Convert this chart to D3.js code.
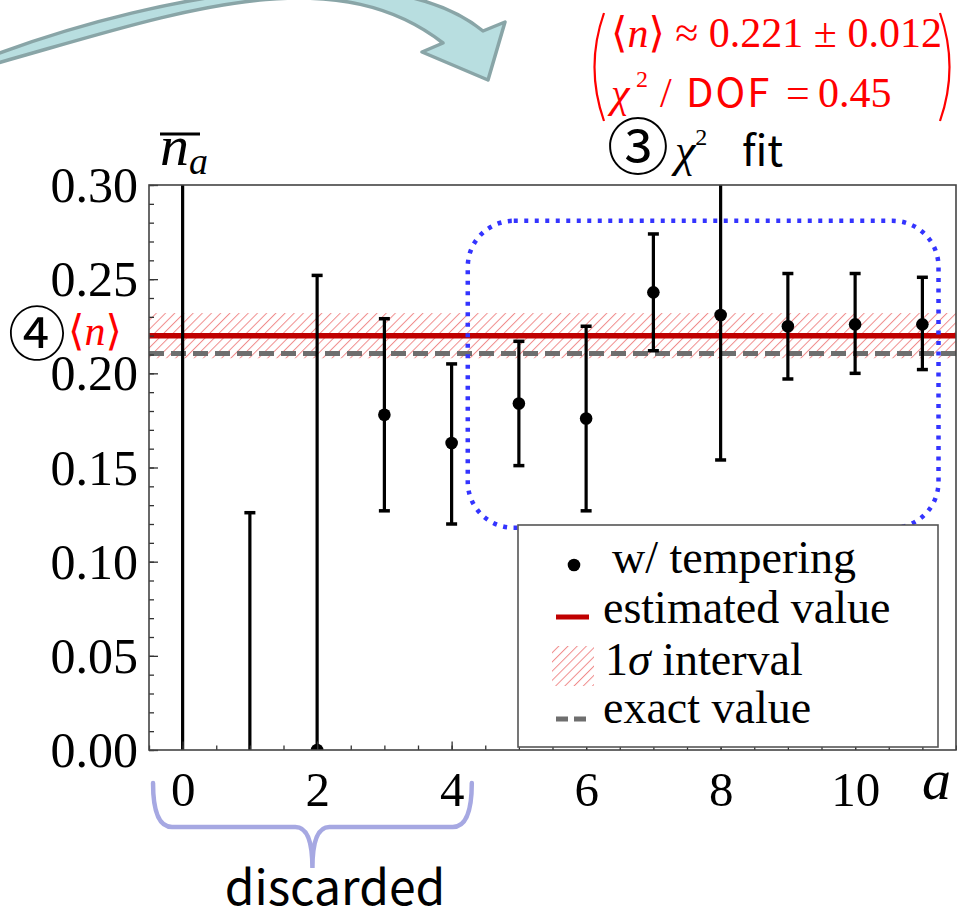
<!DOCTYPE html>
<html>
<head>
<meta charset="utf-8">
<script src="https://cdn.jsdelivr.net/npm/d3@7"></script>
<style>
  body { margin: 0; background: #fff; }
  svg { display: block; }
  .axis text { font-family: 'Liberation Serif', serif; fill: #000; }
  .axis line { stroke: #333; stroke-width: 1.3; }
  .axis path { display: none; }
  .serif { font-family: 'Liberation Serif', 'DejaVu Serif', serif; }
  .sans { font-family: 'Noto Sans CJK KR', 'Noto Sans', sans-serif; }
</style>
</head>
<body>
<div class="chart"></div>
<script>
var W = 957, H = 920;
var frame = {left: 149, right: 956, top: 185, bottom: 750};

// data
var aValues = [0, 1, 2, 3, 4, 5, 6, 7, 8, 9, 10, 11];
var means  = [0.45, -0.10, 0.000, 0.178, 0.163, 0.184, 0.176, 0.243, 0.231, 0.225, 0.226, 0.226];
var lowers = [-0.40, -0.35, -0.252, 0.127, 0.120, 0.151, 0.127, 0.212, 0.154, 0.197, 0.200, 0.202];
var uppers = [1.30, 0.126, 0.252, 0.229, 0.205, 0.217, 0.225, 0.274, 0.308, 0.253, 0.253, 0.251];

var estimated = 0.220;
var sigma = 0.012;
var exact = 0.2105;

var xMajor = [0, 2, 4, 6, 8, 10];
var xMinor = d3.range(-0.5, 11.51, 0.5);
var yMajor = [0, 0.05, 0.10, 0.15, 0.20, 0.25, 0.30];
var yMinor = d3.range(0, 0.301, 0.01);

var legendLabels = ['w/ tempering', 'estimated value', 'interval', 'exact value'];

// fit window (blue dotted box) and discarded range, in data units
var fitBox = {x0: 4.24, x1: 11.24, y0: 0.118, y1: 0.281};
var discardRange = [-0.44, 4.3];

var xScale = d3.scaleLinear().domain([-0.5, 11.5]).range([frame.left, frame.right]);
var yScale = d3.scaleLinear().domain([0, 0.30]).range([frame.bottom, frame.top]);

var svg = d3.select('div.chart').append('svg')
    .attr('width', W)
    .attr('height', H);

var defs = svg.append('defs');
var hatch = defs.append('pattern')
    .attr('id', 'hatch')
    .attr('patternUnits', 'userSpaceOnUse')
    .attr('width', 6.5)
    .attr('height', 6.5)
    .attr('patternTransform', 'rotate(45)');
hatch.append('line')
    .attr('x1', 0).attr('y1', 0).attr('x2', 0).attr('y2', 6.5)
    .attr('stroke', '#f08c8c')
    .attr('stroke-width', 2);

defs.append('clipPath').attr('id', 'plotclip')
  .append('rect')
    .attr('x', frame.left).attr('y', frame.top)
    .attr('width', frame.right - frame.left)
    .attr('height', frame.bottom - frame.top);

// big curved arrow (decoration at top)
svg.append('path')
    .attr('d', 'M-6,55 C170,-10 390,-45 483,31 L505,22 L488,80 L422,52 L443,43 C330,-45 170,15 -6,64 Z')
    .attr('fill', '#b8dee0')
    .attr('stroke', '#89a5a7')
    .attr('stroke-width', 3.5)
    .attr('stroke-linejoin', 'round');

// 1 sigma band
var plot = svg.append('g').attr('clip-path', 'url(#plotclip)');

plot.append('rect')
    .attr('x', frame.left)
    .attr('width', frame.right - frame.left)
    .attr('y', yScale(estimated + sigma))
    .attr('height', yScale(estimated - sigma) - yScale(estimated + sigma))
    .attr('fill', 'url(#hatch)');

plot.append('line')
    .attr('x1', frame.left).attr('x2', frame.right)
    .attr('y1', yScale(exact)).attr('y2', yScale(exact))
    .attr('stroke', '#6e6e6e')
    .attr('stroke-width', 5)
    .attr('stroke-dasharray', '15 7');

plot.append('line')
    .attr('x1', frame.left).attr('x2', frame.right)
    .attr('y1', yScale(estimated)).attr('y2', yScale(estimated))
    .attr('stroke', '#c00000')
    .attr('stroke-width', 5.5);

// error bars
var bars = plot.selectAll('g.bar')
    .data(aValues).enter().append('g')
    .attr('class', 'bar');

bars.append('line')
    .attr('x1', d => xScale(d)).attr('x2', d => xScale(d))
    .attr('y1', (d, i) => yScale(lowers[i]))
    .attr('y2', (d, i) => yScale(uppers[i]))
    .attr('stroke', '#000')
    .attr('stroke-width', 3.2);

bars.append('line')
    .attr('x1', d => xScale(d) - 5.5).attr('x2', d => xScale(d) + 5.5)
    .attr('y1', (d, i) => yScale(uppers[i]))
    .attr('y2', (d, i) => yScale(uppers[i]))
    .attr('stroke', '#000')
    .attr('stroke-width', 3.5);

bars.append('line')
    .attr('x1', d => xScale(d) - 5.5).attr('x2', d => xScale(d) + 5.5)
    .attr('y1', (d, i) => yScale(lowers[i]))
    .attr('y2', (d, i) => yScale(lowers[i]))
    .attr('stroke', '#000')
    .attr('stroke-width', 3.5);

bars.append('circle')
    .attr('cx', d => xScale(d))
    .attr('cy', (d, i) => yScale(means[i]))
    .attr('r', 6.3)
    .attr('fill', '#000');

// axes, ticks pointing inward
svg.append('g')
    .attr('class', 'y axis')
    .attr('transform', 'translate(' + frame.left + ',0)')
    .call(d3.axisLeft(yScale).tickValues(yMinor).tickSize(-5).tickFormat(''));

svg.append('g')
    .attr('class', 'y axis')
    .attr('transform', 'translate(' + frame.left + ',0)')
    .call(d3.axisLeft(yScale)
          .tickValues(yMajor)
          .tickSize(-9)
          .tickPadding(11)
          .tickFormat(d3.format('.2f')))
  .selectAll('text')
    .style('font-size', '50px')
    .attr('dy', '0.33em');

svg.append('g')
    .attr('class', 'x axis')
    .attr('transform', 'translate(0,' + frame.bottom + ')')
    .call(d3.axisBottom(xScale).tickValues(xMinor).tickSize(-4.5).tickFormat(''));

svg.append('g')
    .attr('class', 'x axis')
    .attr('transform', 'translate(0,' + frame.bottom + ')')
    .call(d3.axisBottom(xScale)
          .tickValues(xMajor)
          .tickSize(-8.5)
          .tickPadding(21))
  .selectAll('text')
    .style('font-size', '49px');

svg.append('rect')
    .attr('x', frame.left).attr('y', frame.top)
    .attr('width', frame.right - frame.left)
    .attr('height', frame.bottom - frame.top)
    .attr('fill', 'none')
    .attr('stroke', '#444')
    .attr('stroke-width', 1.6);

// axis labels
svg.append('text')
    .attr('class', 'serif')
    .attr('x', 922).attr('y', 799)
    .style('font-style', 'italic')
    .style('font-size', '58px')
    .text('a');

svg.append('line')
    .attr('x1', 160).attr('x2', 200)
    .attr('y1', 134).attr('y2', 134)
    .attr('stroke', '#000').attr('stroke-width', 3);
var ylab = svg.append('text')
    .attr('class', 'serif')
    .attr('x', 160).attr('y', 165)
    .style('font-style', 'italic')
    .style('font-size', '58px');
ylab.append('tspan').text('n');
ylab.append('tspan').attr('dy', 9).style('font-size', '38px').text('a');

// blue dotted fit window
svg.append('rect')
    .attr('x', xScale(fitBox.x0))
    .attr('y', yScale(fitBox.y1))
    .attr('width', xScale(fitBox.x1) - xScale(fitBox.x0))
    .attr('height', yScale(fitBox.y0) - yScale(fitBox.y1))
    .attr('rx', 46).attr('ry', 46)
    .attr('fill', 'none')
    .attr('stroke', '#3434ff')
    .attr('stroke-width', 4.5)
    .attr('stroke-dasharray', '4 6.5');

// legend
var lg = svg.append('g');
lg.append('rect')
    .attr('x', 518).attr('y', 525)
    .attr('width', 420).attr('height', 222)
    .attr('fill', '#fff')
    .attr('stroke', '#555')
    .attr('stroke-width', 1.6);

lg.append('circle').attr('cx', 574).attr('cy', 565).attr('r', 6.3).attr('fill', '#000');
lg.append('line')
    .attr('x1', 556).attr('x2', 589).attr('y1', 617).attr('y2', 617)
    .attr('stroke', '#c00000').attr('stroke-width', 5);
lg.append('rect')
    .attr('x', 552).attr('y', 646).attr('width', 42).attr('height', 40)
    .attr('fill', 'url(#hatch)');
lg.append('line')
    .attr('x1', 556).attr('x2', 589).attr('y1', 719).attr('y2', 719)
    .attr('stroke', '#6e6e6e').attr('stroke-width', 5)
    .attr('stroke-dasharray', '12 6');

var legendX = [612, 603, 605, 603];
var legendY = [573, 623, 675, 723];
lg.selectAll('text.leg')
    .data(legendLabels).enter().append('text')
    .attr('class', 'leg serif')
    .attr('x', (d, i) => legendX[i])
    .attr('y', (d, i) => legendY[i])
    .style('font-size', '46px')
    .each(function(d, i) {
      var t = d3.select(this);
      if (i === 2) {
        t.append('tspan').text('1');
        t.append('tspan').style('font-style', 'italic').text('σ');
        t.append('tspan').text(' ' + d);
      } else {
        t.text(d);
      }
    });

// fit result annotation (top right)
var red = '#ff0000';
svg.append('path').attr('d', 'M604,13 Q585,67 604,121')
    .attr('fill', 'none').attr('stroke', red).attr('stroke-width', 2.2);
svg.append('path').attr('d', 'M940,13 Q959,67 940,121')
    .attr('fill', 'none').attr('stroke', red).attr('stroke-width', 2.2);

var l1 = svg.append('text')
    .attr('class', 'serif')
    .attr('x', 611).attr('y', 47)
    .attr('fill', red)
    .style('font-size', '42px');
l1.append('tspan').text('⟨');
l1.append('tspan').style('font-style', 'italic').text('n');
l1.append('tspan').text('⟩ ≈ 0.221 ± 0.012');

var l2 = svg.append('text')
    .attr('class', 'serif')
    .attr('y', 107)
    .attr('fill', red)
    .style('font-size', '42px');
l2.append('tspan').attr('x', 611).style('font-style', 'italic').text('χ');
l2.append('tspan').attr('x', 636).attr('dy', -20).style('font-size', '24px').text('2');
l2.append('tspan').attr('x', 660).attr('dy', 20).text('/');
l2.append('tspan').attr('x', 686).attr('class', 'sans')
    .style('font-size', '40px').style('letter-spacing', '2px').text('DOF');
l2.append('tspan').attr('x', 786).text('=');
l2.append('tspan').attr('x', 818).text('0.45');

// step 3 label
svg.append('text')
    .attr('class', 'sans')
    .attr('x', 607).attr('y', 170)
    .style('font-size', '62px')
    .text('③');
var chi = svg.append('text')
    .attr('class', 'serif')
    .attr('x', 675).attr('y', 166)
    .style('font-style', 'italic')
    .style('font-size', '46px');
chi.append('tspan').text('χ');
chi.append('tspan').attr('dy', -21).style('font-style', 'normal').style('font-size', '24px').text('2');
svg.append('text')
    .attr('class', 'sans')
    .attr('x', 742).attr('y', 166)
    .style('font-size', '42px')
    .text('fit');

// step 4 label at left
svg.append('text')
    .attr('class', 'sans')
    .attr('x', 8).attr('y', 355)
    .style('font-size', '58px')
    .text('④');
var avg = svg.append('text')
    .attr('class', 'serif')
    .attr('x', 68).attr('y', 345)
    .attr('fill', red)
    .style('font-size', '42px');
avg.append('tspan').text('⟨');
avg.append('tspan').style('font-style', 'italic').text('n');
avg.append('tspan').text('⟩');

// discarded brace
var bx0 = xScale(discardRange[0]), bx1 = xScale(discardRange[1]);
var bm = (bx0 + bx1) / 2;
svg.append('path')
    .attr('d', 'M' + bx0 + ',783 Q' + bx0 + ',827 ' + (bx0 + 19) + ',827 L' + (bm - 17) + ',827 Q' + bm + ',827 ' + bm + ',868' +
               ' Q' + bm + ',827 ' + (bm + 17) + ',827 L' + (bx1 - 19) + ',827 Q' + bx1 + ',827 ' + bx1 + ',783')
    .attr('fill', 'none')
    .attr('stroke', '#a6a8e2')
    .attr('stroke-width', 4.5)
    .attr('stroke-linecap', 'round');

svg.append('text')
    .attr('class', 'sans')
    .attr('x', 335).attr('y', 905)
    .attr('text-anchor', 'middle')
    .style('font-size', '48px')
    .text('discarded');
</script>
</body>
</html>
